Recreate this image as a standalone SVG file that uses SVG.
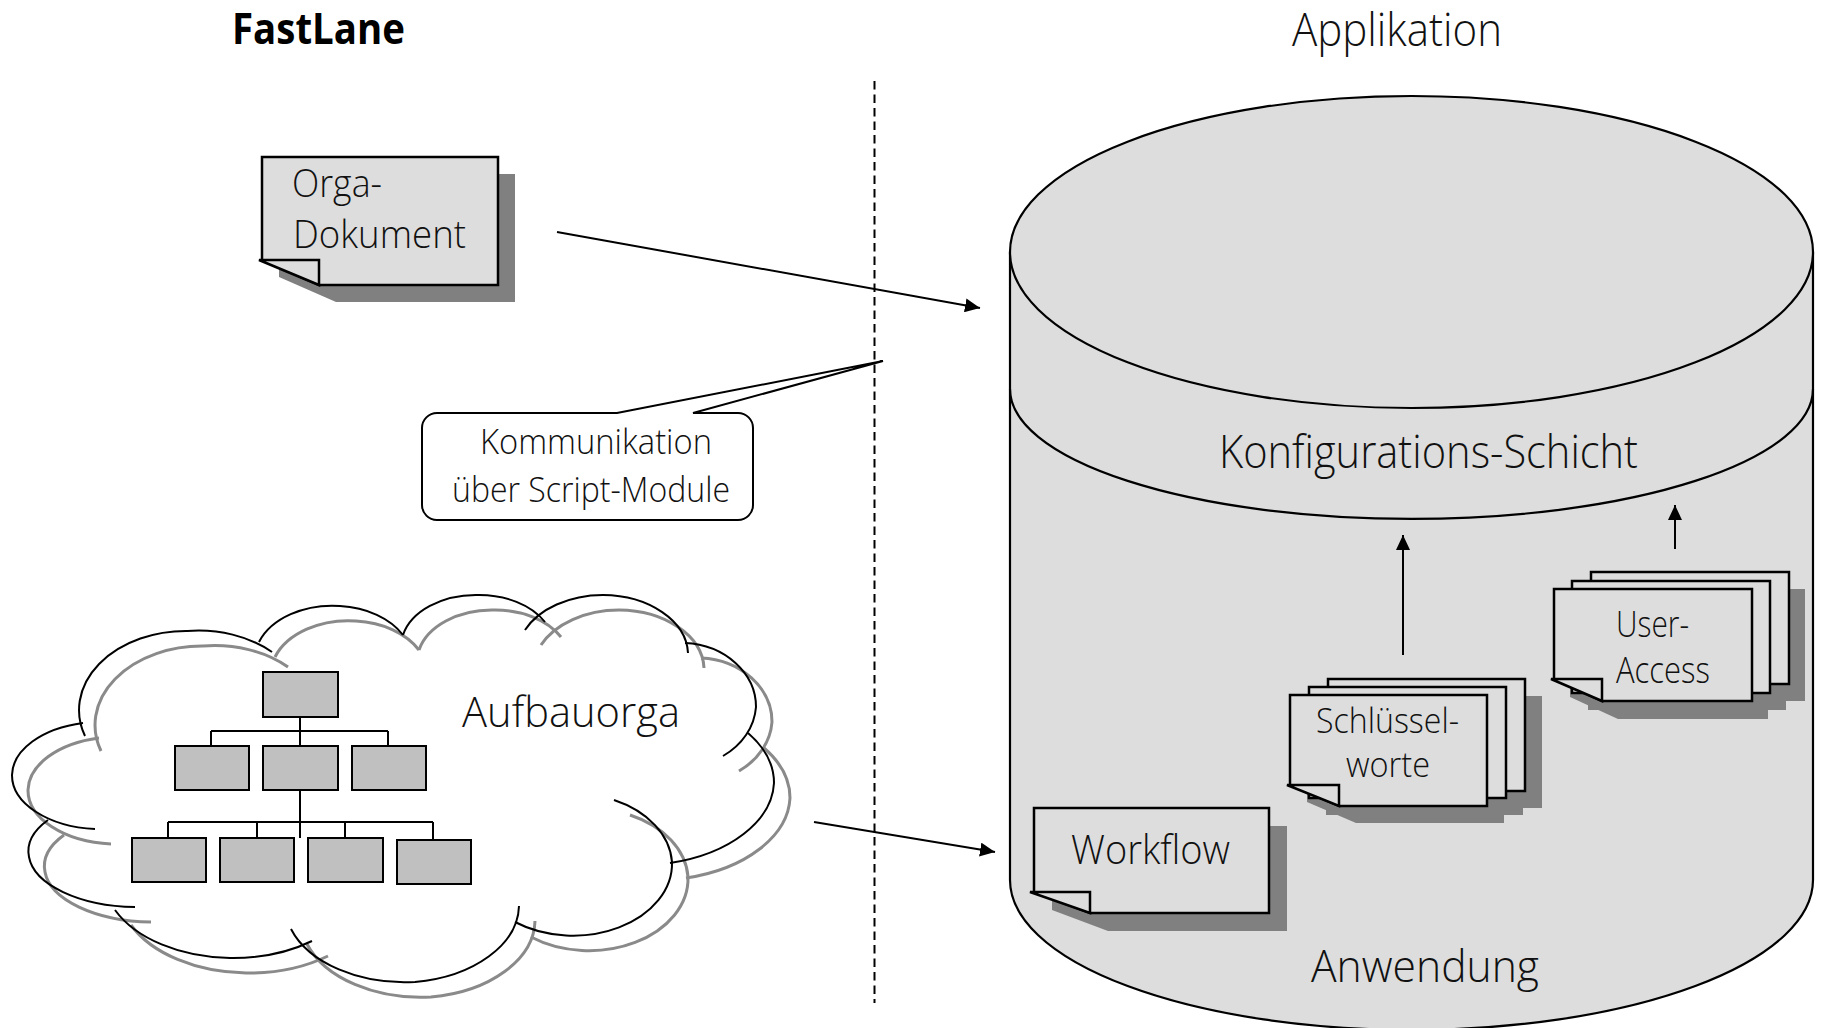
<svg xmlns="http://www.w3.org/2000/svg" width="1821" height="1028" viewBox="0 0 1821 1028">
<style>
text{font-family:"Open Sans","Liberation Sans",sans-serif;font-weight:300;fill:#111}
.title{font-weight:700;font-size:43px;fill:#000}
.doc{fill:#dddddd;stroke:#000;stroke-width:2.5;stroke-linejoin:miter}
.shadow{fill:#808080;stroke:none}
.org{fill:#c0c0c0;stroke:#000;stroke-width:2}
.orgline{fill:none;stroke:#000;stroke-width:2}
.cloud{fill:none;stroke:#000;stroke-width:2}
.cloudsh{fill:none;stroke:#8a8a8a;stroke-width:3}
.cyl{fill:#dddddd;stroke:#000;stroke-width:2.2}
.conn{fill:none;stroke:#000;stroke-width:2}
</style>
<defs>
<marker id="ah" markerUnits="userSpaceOnUse" markerWidth="16" markerHeight="14" refX="15" refY="7" orient="auto">
<path d="M0,0 L15,7 L0,14 Z" fill="#000"/>
</marker>
</defs>

<g id="title-fastlane"><text class="title" x="232" y="44" textLength="173" lengthAdjust="spacingAndGlyphs">FastLane</text></g>
<g id="title-applikation"><text x="1292" y="46" font-size="46" textLength="210" lengthAdjust="spacingAndGlyphs">Applikation</text></g>

<g id="separator"><line x1="874.5" y1="81" x2="874.5" y2="1003" stroke="#000" stroke-width="2" stroke-dasharray="8.5 5"/></g>

<g id="orga-dokument">
<path class="shadow" d="M279,174 H515 V302 H336 L279,277 Z"/>
<path class="doc" d="M262,157 H498 V285 H319 L262,260 Z"/>
<path class="doc" d="M259,260 H319 V285 Z"/>
<text x="292" y="197" font-size="39" textLength="90" lengthAdjust="spacingAndGlyphs">Orga-</text>
<text x="293" y="248" font-size="39" textLength="173" lengthAdjust="spacingAndGlyphs">Dokument</text>
</g>

<g id="callout">
<path d="M437,413 H617 L883,361 L693,413 H738 A15,15 0 0 1 753,428 V505 A15,15 0 0 1 738,520 H437 A15,15 0 0 1 422,505 V428 A15,15 0 0 1 437,413 Z" fill="#fff" stroke="#000" stroke-width="2"/>
<text x="480" y="454" font-size="35" textLength="232" lengthAdjust="spacingAndGlyphs">Kommunikation</text>
<text x="452" y="502" font-size="35" textLength="278" lengthAdjust="spacingAndGlyphs">über Script-Module</text>
</g>

<g id="aufbauorga">
<g class="cloudsh" transform="translate(16,15)">
<path d="M85,736 A107,79 0 0 1 187,631 A107,79 0 0 1 272,652"/>
<path d="M259,642 A78,55 0 0 1 340,606 A78,55 0 0 1 403,635"/>
<path d="M403,635 A75,52 0 0 1 477,595 A75,52 0 0 1 545,622"/>
<path d="M525,630 A86,60 0 0 1 603,595 A86,60 0 0 1 688,653"/>
<path d="M685,643 A75,64 0 0 1 756,707 A75,64 0 0 1 723,756"/>
<path d="M748,733 A136,85 0 0 1 774,783 A136,85 0 0 1 670,863"/>
<path d="M614,800 A99,72 0 0 1 672,862 A99,72 0 0 1 515,922"/>
<path d="M519,906 A120,78 0 0 1 415,982 A120,78 0 0 1 291,929"/>
<path d="M312,941 A130,82 0 0 1 230,958 A130,82 0 0 1 115,910"/>
<path d="M135,907 A110,55 0 0 1 29,857 A110,55 0 0 1 48,820"/>
<path d="M95,829 A90,54 0 0 1 12,775 A90,54 0 0 1 83,723"/>
</g>
<g class="cloud">
<path d="M85,736 A107,79 0 0 1 187,631 A107,79 0 0 1 272,652"/>
<path d="M259,642 A78,55 0 0 1 340,606 A78,55 0 0 1 403,635"/>
<path d="M403,635 A75,52 0 0 1 477,595 A75,52 0 0 1 545,622"/>
<path d="M525,630 A86,60 0 0 1 603,595 A86,60 0 0 1 688,653"/>
<path d="M685,643 A75,64 0 0 1 756,707 A75,64 0 0 1 723,756"/>
<path d="M748,733 A136,85 0 0 1 774,783 A136,85 0 0 1 670,863"/>
<path d="M614,800 A99,72 0 0 1 672,862 A99,72 0 0 1 515,922"/>
<path d="M519,906 A120,78 0 0 1 415,982 A120,78 0 0 1 291,929"/>
<path d="M312,941 A130,82 0 0 1 230,958 A130,82 0 0 1 115,910"/>
<path d="M135,907 A110,55 0 0 1 29,857 A110,55 0 0 1 48,820"/>
<path d="M95,829 A90,54 0 0 1 12,775 A90,54 0 0 1 83,723"/>
</g>
<path class="orgline" d="M300,717 V746 M211,731 H388 M211,731 V746 M388,731 V746 M300,790 V838 M168,822 H433 M168,822 V838 M257,822 V838 M345,822 V838 M433,822 V840"/>
<rect class="org" x="263" y="672" width="75" height="45"/>
<rect class="org" x="175" y="746" width="74" height="44"/>
<rect class="org" x="263" y="746" width="75" height="44"/>
<rect class="org" x="352" y="746" width="74" height="44"/>
<rect class="org" x="132" y="838" width="74" height="44"/>
<rect class="org" x="220" y="838" width="74" height="44"/>
<rect class="org" x="308" y="838" width="75" height="44"/>
<rect class="org" x="397" y="840" width="74" height="44"/>
<text x="462" y="727" font-size="43" textLength="218" lengthAdjust="spacingAndGlyphs">Aufbauorga</text>
</g>

<g id="anwendung">
<path d="M1010,252 V880 A401.5,150 0 0 0 1813,880 V252 Z" fill="#dddddd" stroke="none"/>
<path class="cyl" style="fill:none" d="M1010,252 V880 A401.5,150 0 0 0 1813,880 V252"/>
<path class="cyl" style="fill:none" d="M1010,389 A401.5,130 0 0 0 1813,389"/>
<ellipse class="cyl" cx="1411.5" cy="252" rx="401.5" ry="156"/>
<text x="1219" y="468" font-size="46" textLength="419" lengthAdjust="spacingAndGlyphs">Konfigurations-Schicht</text>
<text x="1311" y="982" font-size="45" textLength="228" lengthAdjust="spacingAndGlyphs">Anwendung</text>
</g>

<g id="workflow">
<path class="shadow" d="M1052,826 H1287 V931 H1108 L1052,910 Z"/>
<path class="doc" d="M1034,808 H1269 V913 H1090 L1034,892 Z"/>
<path class="doc" d="M1030,892 H1090 V913 Z"/>
<text x="1071" y="864" font-size="40" textLength="159" lengthAdjust="spacingAndGlyphs">Workflow</text>
</g>

<g id="schluesselworte">
<rect class="shadow" x="1345" y="696" width="197" height="112"/>
<rect class="shadow" x="1326" y="704" width="197" height="111"/>
<path class="shadow" d="M1307,712 H1504 V823 H1356 L1307,802 Z"/>
<rect class="doc" x="1328" y="679" width="197" height="112"/>
<rect class="doc" x="1309" y="687" width="197" height="111"/>
<path class="doc" d="M1290,695 H1487 V806 H1339 L1290,785 Z"/>
<path class="doc" d="M1287,785 H1339 V806 Z"/>
<text x="1316" y="733" font-size="35" textLength="143" lengthAdjust="spacingAndGlyphs">Schlüssel-</text>
<text x="1346" y="777" font-size="35" textLength="84" lengthAdjust="spacingAndGlyphs">worte</text>
</g>

<g id="user-access">
<rect class="shadow" x="1607" y="589" width="198" height="112"/>
<rect class="shadow" x="1588" y="598" width="198" height="112"/>
<path class="shadow" d="M1570,606 H1768 V719 H1618 L1570,697 Z"/>
<rect class="doc" x="1591" y="572" width="198" height="112"/>
<rect class="doc" x="1572" y="581" width="198" height="112"/>
<path class="doc" d="M1554,589 H1752 V701 H1602 L1554,679 Z"/>
<path class="doc" d="M1551,679 H1602 V701 Z"/>
<text x="1616" y="637" font-size="36" textLength="73" lengthAdjust="spacingAndGlyphs">User-</text>
<text x="1616" y="683" font-size="36" textLength="94" lengthAdjust="spacingAndGlyphs">Access</text>
</g>

<g id="connectors">
<line class="conn" x1="557" y1="232" x2="980" y2="308" marker-end="url(#ah)"/>
<line class="conn" x1="814" y1="822" x2="995" y2="852" marker-end="url(#ah)"/>
<line class="conn" x1="1403" y1="655" x2="1403" y2="535" marker-end="url(#ah)"/>
<line class="conn" x1="1675" y1="549" x2="1675" y2="505" marker-end="url(#ah)"/>
</g>
</svg>
